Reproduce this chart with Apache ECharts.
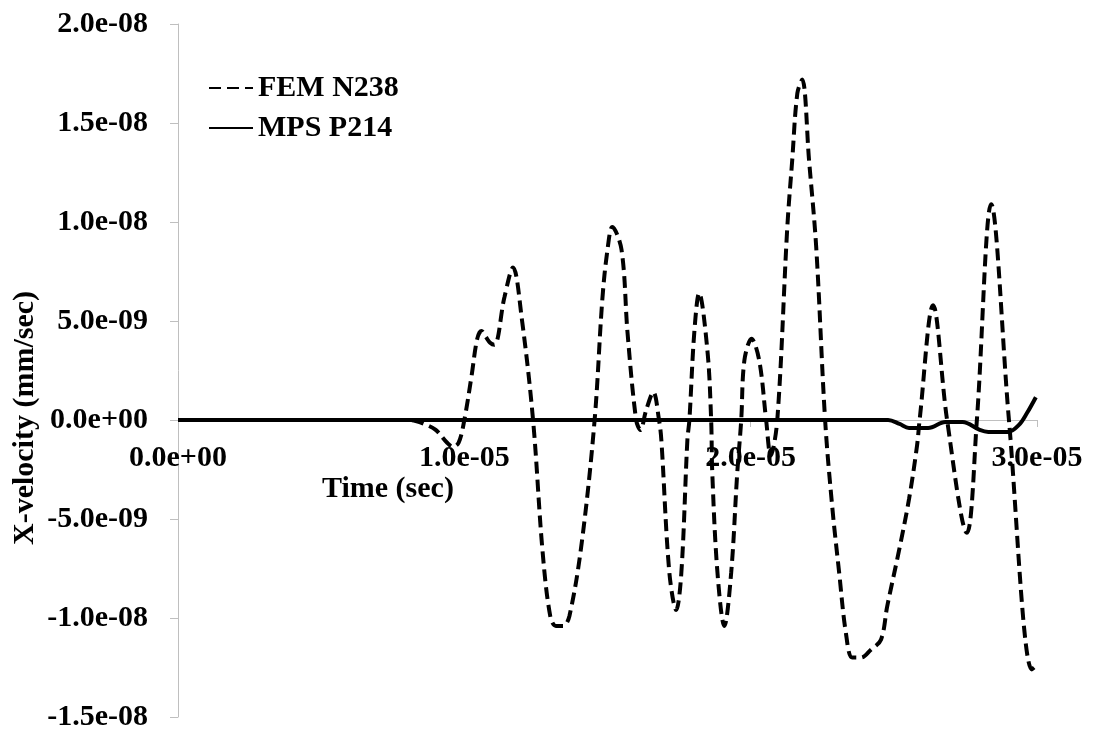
<!DOCTYPE html>
<html lang="en">
<head>
    <meta charset="UTF-8">
    <title>X-velocity</title>
    <script src="https://cdn.jsdelivr.net/npm/echarts@6/dist/echarts.min.js"></script>
    <style>
        html, body { margin: 0; padding: 0; background: #fff; }
    </style>
</head>
<body>
<div id="main" style="width: 1101px;height: 740px;"></div>
<script type="text/javascript">
    // time in units of 1e-5 sec, velocity in units of 1e-9 mm/sec
    var femTime = [0, 0.4, 0.8, 0.83, 0.86, 0.9, 0.94, 0.96, 0.98, 1.0, 1.025, 1.045, 1.06, 1.075, 1.09, 1.105,
        1.14, 1.17, 1.2, 1.24, 1.273, 1.30, 1.32, 1.345, 1.367, 1.41, 1.455, 1.482, 1.50, 1.517, 1.549, 1.57,
        1.60, 1.615, 1.635, 1.66, 1.68, 1.688, 1.716, 1.74, 1.758, 1.779, 1.786, 1.803, 1.82, 1.849, 1.862,
        1.866, 1.884, 1.908, 1.932, 1.953, 1.967, 1.978, 2.003, 2.03, 2.054, 2.07, 2.093, 2.128, 2.145, 2.163,
        2.18, 2.204, 2.229, 2.26, 2.285, 2.309, 2.333, 2.355, 2.385, 2.42, 2.455, 2.477, 2.518, 2.553, 2.581,
        2.59, 2.637, 2.686, 2.755, 2.79, 2.84, 2.902, 2.982, 2.99];
    var femVel = [0, 0, 0, -0.05, -0.2, -0.5, -1.15, -1.35, -1.15, 0, 2.2, 4.1, 4.5, 4.2, 3.9, 3.8,
        6.2, 7.7, 5.2, 0, -6.6, -9.9, -10.4, -10.4, -9.9, -6.2, 0, 6.1, 8.6, 9.75, 8.6, 4.4,
        0, -0.5, 0.5, 1.4, 0, -1.0, -7.7, -9.6, -7.7, -1.0, 0, 4.4, 6.4, 3.5, 0,
        -2.7, -7.7, -10.4, -7.7, -2.7, 0, 3.0, 4.1, 3.0, 0, -1.8, 0, 9.75, 13.1, 16.5,
        17.2, 13.1, 8.7, 0, -4.4, -7.7, -10.8, -12.0, -12.0, -11.6, -11.1, -9.4, -6.6, -4.0, -1.3,
        0, 5.8, 0, -5.7, 0, 10.9, 0, -12.6, -12.5];

    var mpsTime = [0, 1.0, 2.0, 2.48, 2.52, 2.553, 2.62, 2.68, 2.74, 2.80, 2.83, 2.90, 2.937, 2.965, 2.996];
    var mpsVel = [0, 0, 0, 0, -0.2, -0.4, -0.4, -0.1, -0.1, -0.5, -0.6, -0.6, -0.25, 0.35, 1.15];

    var xTicks = [0, 1, 2, 3];
    var yTicks = [-15, -10, -5, 0, 5, 10, 15, 20];

    function pairs(xs, ys) {
        var out = [];
        for (var i = 0; i < xs.length; i++) {
            out.push([xs[i], ys[i]]);
        }
        return out;
    }

    // 1e-5 -> "1.0e-05"
    function sci(v) {
        if (Math.abs(v) < 1e-30) return '0.0e+00';
        var s = v.toExponential(1);
        var parts = s.split('e');
        var sign = parts[1].charAt(0);
        var exp = parts[1].substring(1);
        if (exp.length < 2) exp = '0' + exp;
        return parts[0] + 'e' + sign + exp;
    }

    var font = '"Times New Roman", "Liberation Serif", serif';
    var grey = '#bfbfbf';
    var gridTop = 24, gridBottom = 23, plotH = 740 - gridTop - gridBottom;
    // x axis sits on the zero line: shift it up from the grid bottom
    var zeroShift = -plotH * (0 - yTicks[0]) / (yTicks[yTicks.length - 1] - yTicks[0]);

    var myChart = echarts.init(document.getElementById('main'));
    myChart.setOption({
        animation: false,
        backgroundColor: '#fff',
        grid: {
            left: 178,
            right: 64,
            top: gridTop,
            bottom: gridBottom,
            outerBoundsMode: 'none'
        },
        legend: {
            orient: 'vertical',
            left: 208,
            top: 73,
            padding: 0,
            itemWidth: 44,
            itemHeight: 14,
            itemGap: 10,
            itemStyle: {color: 'rgba(0,0,0,0)', borderWidth: 0},
            textStyle: {
                fontFamily: font,
                fontSize: 30,
                fontWeight: 'bold',
                color: '#000',
                lineHeight: 30
            },
            data: ['FEM N238', 'MPS P214']
        },
        xAxis: {
            type: 'value',
            position: 'bottom',
            offset: zeroShift,
            min: xTicks[0],
            max: xTicks[xTicks.length - 1],
            interval: 1,
            splitLine: {show: false},
            axisLine: {show: true, onZero: false, lineStyle: {color: grey, width: 1}},
            axisTick: {show: true, length: 7, lineStyle: {color: grey}},
            axisLabel: {
                showMinLabel: true,
                showMaxLabel: true,
                margin: 23,
                fontFamily: font,
                fontSize: 30,
                fontWeight: 'bold',
                color: '#000',
                formatter: function (v) { return sci(v * 1e-5); }
            }
        },
        yAxis: {
            type: 'value',
            min: yTicks[0],
            max: yTicks[yTicks.length - 1],
            interval: 5,
            splitLine: {show: false},
            axisLine: {show: true, onZero: false, lineStyle: {color: grey, width: 1}},
            axisTick: {show: true, length: 8, lineStyle: {color: grey}},
            axisLabel: {
                margin: 30,
                fontFamily: font,
                fontSize: 30,
                fontWeight: 'bold',
                color: '#000',
                formatter: function (v) { return sci(v * 1e-9); }
            }
        },
        graphic: [
            {
                type: 'text',
                left: 322,
                top: 474,
                style: {
                    text: 'Time (sec)',
                    fontFamily: font,
                    fontSize: 30,
                    fontWeight: 'bold',
                    fill: '#000'
                }
            },
            {
                type: 'text',
                x: 10,
                y: 545,
                rotation: Math.PI / 2,
                style: {
                    text: 'X-velocity (mm/sec)',
                    fontFamily: font,
                    fontSize: 30,
                    fontWeight: 'bold',
                    fill: '#000'
                }
            }
        ],
        series: [
            {
                name: 'FEM N238',
                type: 'line',
                data: pairs(femTime, femVel),
                smooth: 0.35,
                symbol: 'none',
                lineStyle: {color: '#000', width: 4, type: [12, 6]},
                itemStyle: {color: '#000'}
            },
            {
                name: 'MPS P214',
                type: 'line',
                data: pairs(mpsTime, mpsVel),
                smooth: 0.35,
                symbol: 'none',
                lineStyle: {color: '#000', width: 4, type: 'solid'},
                itemStyle: {color: '#000'}
            }
        ]
    });
</script>
</body>
</html>
